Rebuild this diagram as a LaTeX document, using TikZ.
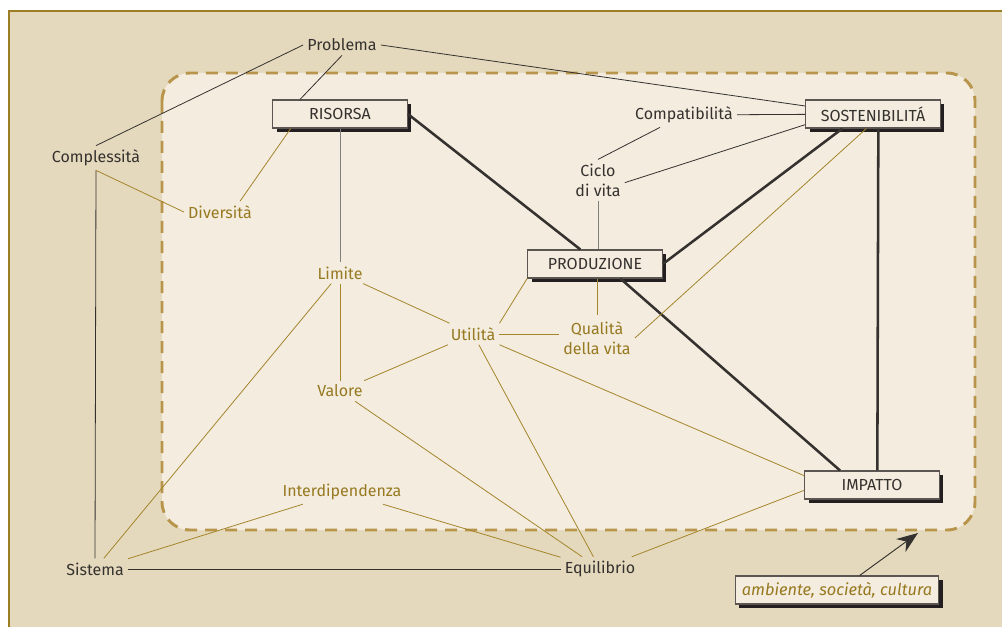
\documentclass[tikz,border=0pt]{standalone}
\usepackage{fontspec}
\setmainfont{Fira Sans}
\usepackage{xcolor}
\usetikzlibrary{arrows.meta, shadows}

\definecolor{outerbg}{HTML}{E4D9BD}
\definecolor{innerbg}{HTML}{F3ECDF}
\definecolor{framec}{HTML}{9C7E24}
\definecolor{dashc}{HTML}{B8954A}
\definecolor{olivetext}{HTML}{977920}
\definecolor{oliveline}{HTML}{A4852C}
\definecolor{darktext}{HTML}{35312E}
\definecolor{boxline}{HTML}{5C5652}
\definecolor{shadowc}{HTML}{231F20}

\begin{document}
\begin{tikzpicture}[
                x=0.75pt, y=-0.75pt,
                font=\fontsize{12}{15}\selectfont,
                term/.style={text=darktext, align=center, inner sep=3pt},
                keyterm/.style={term, text=olivetext},
                box/.style={rectangle, draw=boxline, line width=0.8pt, fill=innerbg, text=darktext, align=center,
                            minimum width=101pt, minimum height=21pt, inner sep=2pt,
                            drop shadow={shadow xshift=3pt, shadow yshift=-3pt, fill=shadowc, opacity=1}},
                link/.style={draw=darktext, line width=0.6pt},
                glink/.style={draw=gray, line width=0.6pt},
                olink/.style={draw=oliveline, line width=0.6pt},
                heavy/.style={draw=darktext, line width=1.9pt},
                arrow/.style={draw=darktext, line width=0.7pt, -{Stealth[length=16pt, width=12pt]}}
            ]
            \useasboundingbox (0,0) rectangle (1002,627);
            \fill[outerbg] (9,11) rectangle (1002,627);
            \draw[framec, line width=1.4pt] (1002,11) -- (9,11) -- (9,627);
            \draw[dashc, fill=innerbg, line width=2.2pt, dash pattern=on 9pt off 6pt, rounded corners=21pt] (162,73) rectangle (975,530);

            \node (prob) [term] at (342,45) {Problema};
            \node (comp) [term] at (96,158) {Complessità};
            \node (div) [keyterm] at (220,212) {Diversità};
            \node (ris) [box] at (340,114) {RISORSA};
            \node (compat) [term] at (684,115) {Compatibilità};
            \node (sost) [box] at (873,114) {SOSTENIBILITÁ};
            \node (ciclo) [term] at (598,180) {Ciclo\\di vita};
            \node (prod) [box] at (595,264) {PRODUZIONE};
            \node (lim) [keyterm] at (340,273) {Limite};
            \node (ut) [keyterm] at (473,334) {Utilità};
            \node (qual) [keyterm] at (597,338) {Qualità\\della vita};
            \node (val) [keyterm] at (340,391) {Valore};
            \node (inter) [keyterm] at (342,492) {Interdipendenza};
            \node (imp) [box] at (872,485) {IMPATTO};
            \node (sist) [term] at (95,569) {Sistema};
            \node (equi) [term] at (600,569) {Equilibrio};
            \node (amb) [box, minimum width=0pt, inner xsep=5pt, text=olivetext,
                         font=\fontsize{12.3}{15}\selectfont\itshape] at (837,590) {ambiente, società, cultura};
            \coordinate (tip) at (918,533);

            % black links
            \draw [link] (prob.south) -- ([xshift=-30pt]ris.north);
            \draw [link] (prob.west) -- (comp.north);
            \draw [link] (prob.east) -- ([yshift=6pt]sost.west);
            \draw [link] (comp.south) -- (sist.north);
            \draw [link] (sist) -- (equi);
            \draw [link] (compat) -- (sost);
            \draw [link] (ciclo.north) -- ([xshift=-18pt]compat.south);
            \draw [link] ([yshift=-2pt]ciclo.east) -- ([yshift=-8pt]sost.west);
            \draw [glink] (ciclo.south) -- (ciclo.south |- prod.north);
            \draw [glink] (ris) -- (lim);

            % heavy links
            \draw [heavy] (ris.east) -- ([xshift=-11pt]prod.north);
            \draw [heavy] (prod.east) -- ([xshift=-23pt]sost.south);
            \draw [heavy] ([xshift=19pt]prod.south) -- ([xshift=-24pt]imp.north);
            \draw [heavy] ([xshift=4pt]sost.south) -- ([xshift=4pt]imp.north);

            % olive links
            \draw [olink] (comp.south) -- (div.west);
            \draw [olink] ([xshift=-37pt]ris.south) -- ([xshift=15pt]div.north);
            \draw [olink] (lim) -- (ut);
            \draw [olink] (lim) -- (val);
            \draw [olink] (lim) -- (sist);
            \draw [olink] (ut) -- (val);
            \draw [olink] (ut.north east) -- (prod.south west);
            \draw [olink] (ut.east) -- (ut.east -| qual.west);
            \draw [olink] ([yshift=2pt]qual.north) -- (qual.north |- prod.south);
            \draw [olink] (qual.east) -- ([xshift=-5pt]sost.south);
            \draw [olink] (ut) -- (equi);
            \draw [olink] (ut.south east) -- ([yshift=7pt]imp.west);
            \draw [olink] (val) -- (equi);
            \draw [olink] (inter) -- (sist);
            \draw [olink] (inter) -- (equi);
            \draw [olink] (equi) -- ([yshift=-4pt]imp.west);

            \draw [arrow] ([xshift=17pt]amb.north) -- (tip);
            \end{tikzpicture}
\end{document}
